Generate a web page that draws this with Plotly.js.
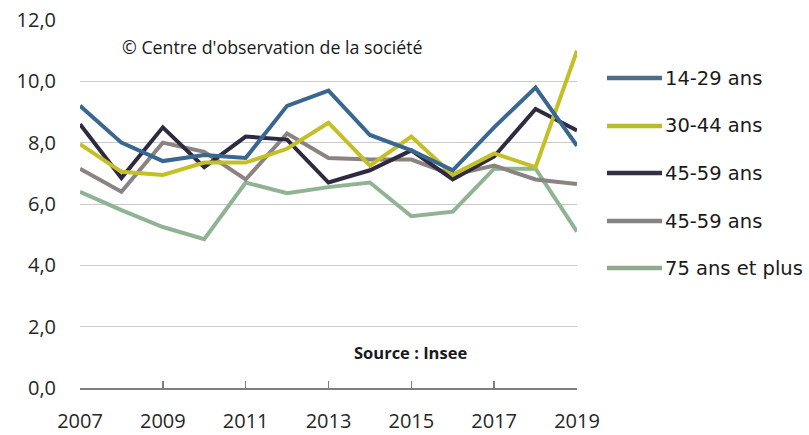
<!DOCTYPE html>
<html>
<head>
<meta charset="utf-8">
<script src="https://cdn.plot.ly/plotly-3.0.1.min.js"></script>
<style>html,body{margin:0;padding:0;background:#fff;}#chart{width:809px;height:435px;}</style>
</head>
<body>
<div id="chart"></div>
<script>
const years = [2007,2008,2009,2010,2011,2012,2013,2014,2015,2016,2017,2018,2019];
const seriesNames = ["14-29 ans","30-44 ans","45-59 ans","45-59 ans","75 ans et plus"];
const s1429 = [9.2,8.0,7.4,7.6,7.5,9.2,9.7,8.25,7.75,7.1,8.5,9.8,7.9];
const s3044 = [7.95,7.05,6.95,7.35,7.35,7.8,8.65,7.25,8.2,6.95,7.65,7.2,11.0];
const s4559a = [8.6,6.85,8.5,7.2,8.2,8.1,6.7,7.1,7.75,6.8,7.55,9.1,8.4];
const s4559b = [7.15,6.4,8.0,7.7,6.8,8.3,7.5,7.45,7.45,6.95,7.25,6.8,6.65];
const s75 = [6.4,5.8,5.25,4.85,6.7,6.35,6.55,6.7,5.6,5.75,7.15,7.15,5.1];
const colors = ["#3a6790","#c4bf25","#2e2a40","#8a8381","#90b393"];
const legendColors = ["#4f6b87","#b8bb2c","#33303f","#858382","#8fa98a"];
const yTicks = [0,2,4,6,8,10,12];
const xTicks = [2007,2009,2011,2013,2015,2017,2019];
const noteText = "© Centre d'observation de la société";
const sourceText = "Source : Insee";

const allSeries = [s1429,s3044,s4559a,s4559b,s75];
const drawOrder = [4,3,2,1,0];
const traces = drawOrder.map(i => ({
  x: years, y: allSeries[i], type: 'scatter', mode: 'lines',
  name: seriesNames[i], showlegend: false,
  line: {color: colors[i], width: 4}
}));

const W = 809, H = 435, L = 80, R = 232, T = 20, B = 47;
const pw = W - L - R, ph = H - T - B;
const px = x => (x - L) / pw;
const py = y => (H - B - y) / ph;

const legendY = [78,126,173,221,268];
const shapes = [], annotations = [];
seriesNames.forEach((n, i) => {
  shapes.push({type:'line', xref:'paper', yref:'paper', x0: px(607), x1: px(662), y0: py(legendY[i]), y1: py(legendY[i]), line:{color: legendColors[i], width: 4.5}});
  annotations.push({xref:'paper', yref:'paper', x: px(663), y: py(legendY[i]), xanchor:'left', yanchor:'middle', text: n, showarrow:false, font:{family:'DejaVu Sans, sans-serif', size:19.5, color:'#1a1a1a'}});
});
annotations.push({xref:'paper', yref:'paper', x: px(120), y: py(47), xanchor:'left', yanchor:'middle', text: noteText, showarrow:false, font:{family:'Open Sans, sans-serif', size:17.8, color:'#1a1a1a'}});
annotations.push({xref:'paper', yref:'paper', x: px(410), y: py(352), xanchor:'center', yanchor:'middle', text: '<b>' + sourceText + '</b>', showarrow:false, font:{family:'Open Sans, sans-serif', size:16.5, color:'#1a1a1a'}});

const layout = {
  width: W, height: H,
  margin: {l: L, r: R, t: T, b: B, pad: 0},
  paper_bgcolor: '#fff', plot_bgcolor: '#fff',
  separators: ', ',
  showlegend: false,
  xaxis: {
    range: [2007, 2019], tickvals: xTicks, ticktext: xTicks.map(String),
    showgrid: false, zeroline: false, showline: true, linecolor: '#7f7f7f', linewidth: 1.5,
    ticks: 'inside', ticklen: 7, tickcolor: '#7f7f7f', tickwidth: 1.5,
    ticklabelstandoff: 14,
    tickfont: {family: 'Open Sans, sans-serif', size: 20, color: '#262626'}
  },
  yaxis: {
    range: [0, 12], tickvals: yTicks, tickformat: '.1f',
    showgrid: true, gridcolor: '#c9c9c9', gridwidth: 1, zeroline: false, showline: false,
    ticks: '', ticklabelstandoff: 23,
    tickfont: {family: 'Open Sans, sans-serif', size: 20, color: '#262626'}
  },
  shapes: shapes, annotations: annotations
};

Plotly.newPlot('chart', traces, layout, {displayModeBar: false, staticPlot: true});
</script>
</body>
</html>
